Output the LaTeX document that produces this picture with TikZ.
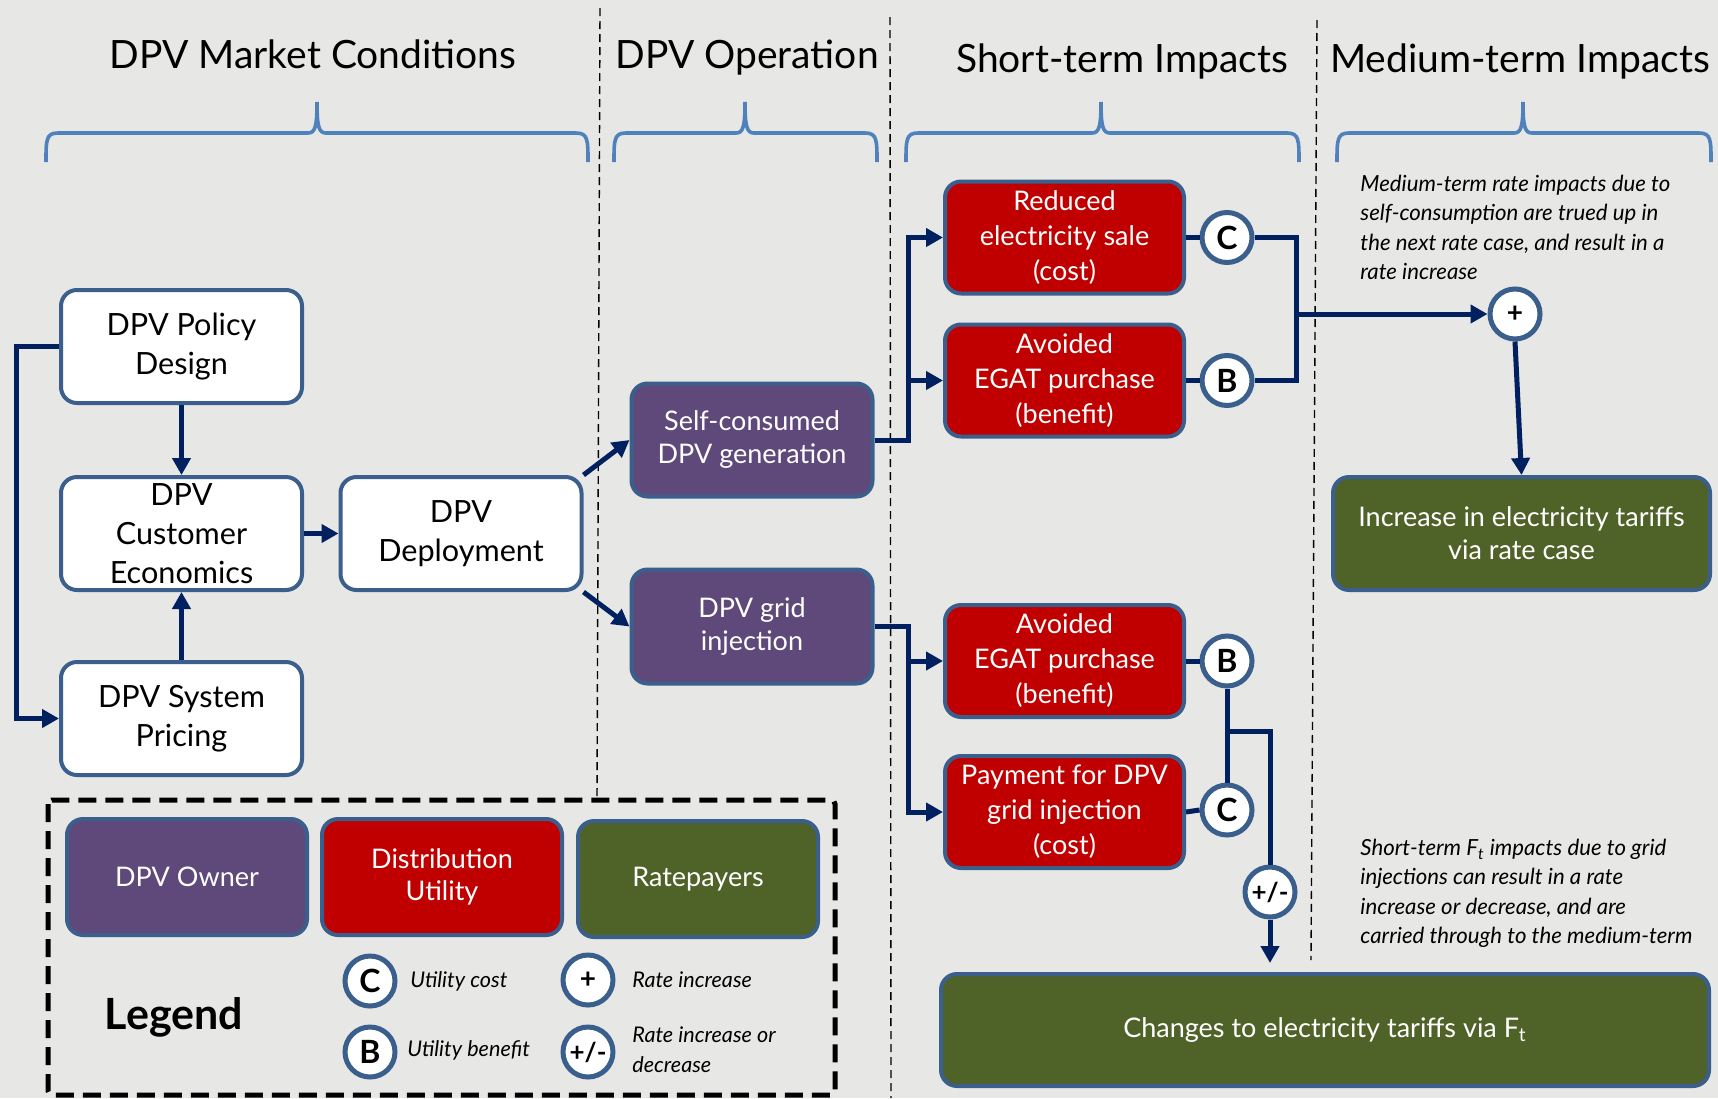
\documentclass[tikz,border=0pt]{standalone}
\usepackage{fontspec}
\setmainfont{Lato}
\usetikzlibrary{arrows.meta,calc}
\definecolor{bg}{HTML}{E7E7E5}
\definecolor{bord}{HTML}{3A5F8C}
\definecolor{navy}{HTML}{002060}
\definecolor{dpvpurple}{HTML}{5F497A}
\definecolor{dpvred}{HTML}{C00000}
\definecolor{dpvgreen}{HTML}{4F6228}
\definecolor{bracec}{HTML}{4F81BD}
\newcommand{\dpvbrace}[3]{%
  \draw[brace] (#1,162) .. controls (#1,140) and (#1,133) .. (#1+12,133)
    -- (#2-9,133) .. controls (#2-2,133) and (#2,127) .. (#2,102)
    .. controls (#2,127) and (#2+2,133) .. (#2+9,133)
    -- (#3-12,133) .. controls (#3,133) and (#3,140) .. (#3,162);}
\begin{document}
\begin{tikzpicture}[x=0.5pt,y=-0.5pt,
  box/.style={draw=bord, line width=2pt, rounded corners=8pt, align=center, inner sep=0pt},
  wbox/.style={box, fill=white, text=black, minimum width=120.5pt, minimum height=56.5pt, font=\fontsize{15.3}{19.5}\selectfont},
  pbox/.style={box, fill=dpvpurple, text=white, minimum width=120.5pt, minimum height=56.5pt, font=\fontsize{13.5}{16.5}\selectfont},
  rbox/.style={box, fill=dpvred, text=white, minimum width=119.5pt, minimum height=56pt, font=\fontsize{13.5}{17.5}\selectfont},
  gbox/.style={box, fill=dpvgreen, text=white, minimum height=56.5pt, font=\fontsize{13.5}{16.5}\selectfont},
  swatch/.style={box, minimum width=120pt, minimum height=58pt, text=white, font=\fontsize{13.5}{16}\selectfont},
  circ/.style={circle, draw=bord, line width=2.5pt, fill=white, minimum size=25pt, inner sep=0pt, font=\bfseries\fontsize{16}{16}\selectfont},
  pmcirc/.style={circ, font=\bfseries\fontsize{13}{13}\selectfont},
  pluscirc/.style={circ, font=\bfseries\fontsize{14}{14}\selectfont},
  conn/.style={draw=navy, line width=2.5pt},
  arr/.style={conn, -{Triangle[length=8.5pt,width=9pt]}},
  sep/.style={draw=black, line width=0.7pt, dash pattern=on 4pt off 2.5pt},
  brace/.style={draw=bracec, line width=1.8pt},
  hdr/.style={font=\fontsize{19.5}{22}\selectfont, anchor=base, inner sep=0pt},
  note/.style={font=\itshape\fontsize{11.1}{14.6}\selectfont, align=left, inner sep=0pt, anchor=north west},
  legtxt/.style={font=\itshape\fontsize{10.8}{15}\selectfont, align=left, inner sep=0pt}
]
\fill[bg] (0,0) rectangle (1718,1098);
\useasboundingbox (0,0) rectangle (1718,1098);

% separators
\draw[sep] (600,8) -- (597,800);
\draw[sep] (890,17) -- (891,1098);
\draw[sep] (1317,20) -- (1311,960);

% headers
\node[hdr] (h1) at (313,68) {DPV Market Conditions};
\node[hdr] (h2) at (747,68) {DPV Operation};
\node[hdr] (h3) at (1122,72) {Short-term Impacts};
\node[hdr] (h4) at (1520,72) {Medium-term Impacts};

% braces
\dpvbrace{46}{317}{588}
\dpvbrace{614}{745}{877}
\dpvbrace{906}{1101}{1299}
\dpvbrace{1337}{1523}{1711}

% market condition boxes
\node[wbox] (policy) at (181.5,346.5) {DPV Policy\\Design};
\node[wbox] (cust) at (181.5,533.5) {DPV\\Customer\\Economics};
\node[wbox] (pricing) at (181.5,718.5) {DPV System\\Pricing};
\node[wbox] (deploy) at (461,533.5) {DPV\\Deployment};

% operation
\node[pbox] (self) at (752,440) {Self-consumed\\DPV generation};
\node[pbox, minimum height=57pt] (grid) at (752,626.5) {DPV grid\\injection};

% short-term
\node[rbox] (red1) at (1064.5,237.5) {Reduced\\electricity sale\\(cost)};
\node[rbox] (avoid1) at (1064.5,380.5) {Avoided\\EGAT purchase\\(benefit)};
\node[rbox] (avoid2) at (1064.5,661) {Avoided\\EGAT purchase\\(benefit)};
\node[rbox] (pay) at (1064.5,812) {Payment for DPV\\grid injection\\(cost)};

\node[circ] (cC1) at (1227,237.5) {C};
\node[circ] (cB1) at (1227,380.5) {B};
\node[circ] (cB2) at (1227,661) {B};
\node[circ] (cC2) at (1227,810) {C};
\node[pmcirc] (pm) at (1270,892) {+/-};
\node[pluscirc] (plus) at (1515,314) {+};

% medium-term
\node[gbox, minimum width=188.5pt] (incr) at (1521.5,533.5) {Increase in electricity tariffs\\via rate case};
\node[gbox, minimum width=384pt, minimum height=56pt] (changes) at (1325,1030) {Changes to electricity tariffs via F\textsubscript{t}};

% notes
\node[note] (mednote) at (1360,175) {Medium-term rate impacts due to\\self-consumption are trued up in\\the next rate case, and result in a\\rate increase};
\node[note] (shortnote) at (1360,839) {Short-term F\textsubscript{t} impacts due to grid\\injections can result in a rate\\increase or decrease, and are\\carried through to the medium-term};

% connectors
\coordinate (lx) at (16,346);
\draw[arr] (policy.west) -- (policy.west -| lx) |- (pricing.west);
\draw[arr] (policy.south) -- (cust.north);
\draw[arr] (pricing.north) -- (cust.south);
\draw[arr] (cust.east) -- (deploy.west);
\draw[arr] (deploy.north east) -- (self.west);
\draw[arr] (deploy.south east) -- (grid.west);

\coordinate (sj) at (908,440);
\draw[arr] (self.east) -- (sj) |- (red1.west);
\draw[arr] (sj) |- (avoid1.west);
\coordinate (gj) at (908,626.5);
\draw[arr] (grid.east) -- (gj) |- (avoid2.west);
\draw[arr] (gj) |- (pay.west);

\draw[conn] (red1.east) -- (cC1.west);
\draw[conn] (avoid1.east) -- (cB1.west);
\draw[conn] (avoid2.east) -- (cB2.west);
\draw[conn] (pay.east) -- (cC2.west);

\coordinate (rj) at (1296,314);
\draw[conn] (cC1.east) -| (rj) |- (cB1.east);
\draw[arr] (rj) -- (plus.west);
\draw[arr] (plus.south) -- (incr.north);

\coordinate (bj) at (1227,731);
\draw[conn] (cB2.south) -- (cC2.north);
\draw[conn] (bj) -| (pm.north);
\draw[arr, shorten >=4.5pt] (pm.south) -- (pm.south |- changes.north);

% legend
\draw[line width=2.5pt, dash pattern=on 9pt off 4.5pt, rounded corners=2pt] (48,800) rectangle (835,1095);
\node[swatch, fill=dpvpurple] (legowner) at (187,877) {DPV Owner};
\node[swatch, fill=dpvred] (legutil) at (442,877) {Distribution\\Utility};
\node[swatch, fill=dpvgreen] (legrate) at (698,879) {Ratepayers};
\node[font=\bfseries\fontsize{21.5}{21.5}\selectfont, anchor=base, inner sep=0pt] (legtitle) at (174,1029) {Legend};
\node[circ] (legC) at (370,981) {C};
\node[circ] (legB) at (370,1052) {B};
\node[pluscirc] (legP) at (588,980) {+};
\node[pmcirc] (legPM) at (588,1052) {+/-};
\node[legtxt, anchor=west] (legCt) at (410,981) {Utility cost};
\node[legtxt, anchor=west] (legBt) at (407,1050) {Utility benefit};
\node[legtxt, anchor=west] (legPt) at (632,980) {Rate increase};
\node[legtxt, anchor=north west] (legPMt) at (632,1026) {Rate increase or\\decrease};
\end{tikzpicture}
\end{document}
